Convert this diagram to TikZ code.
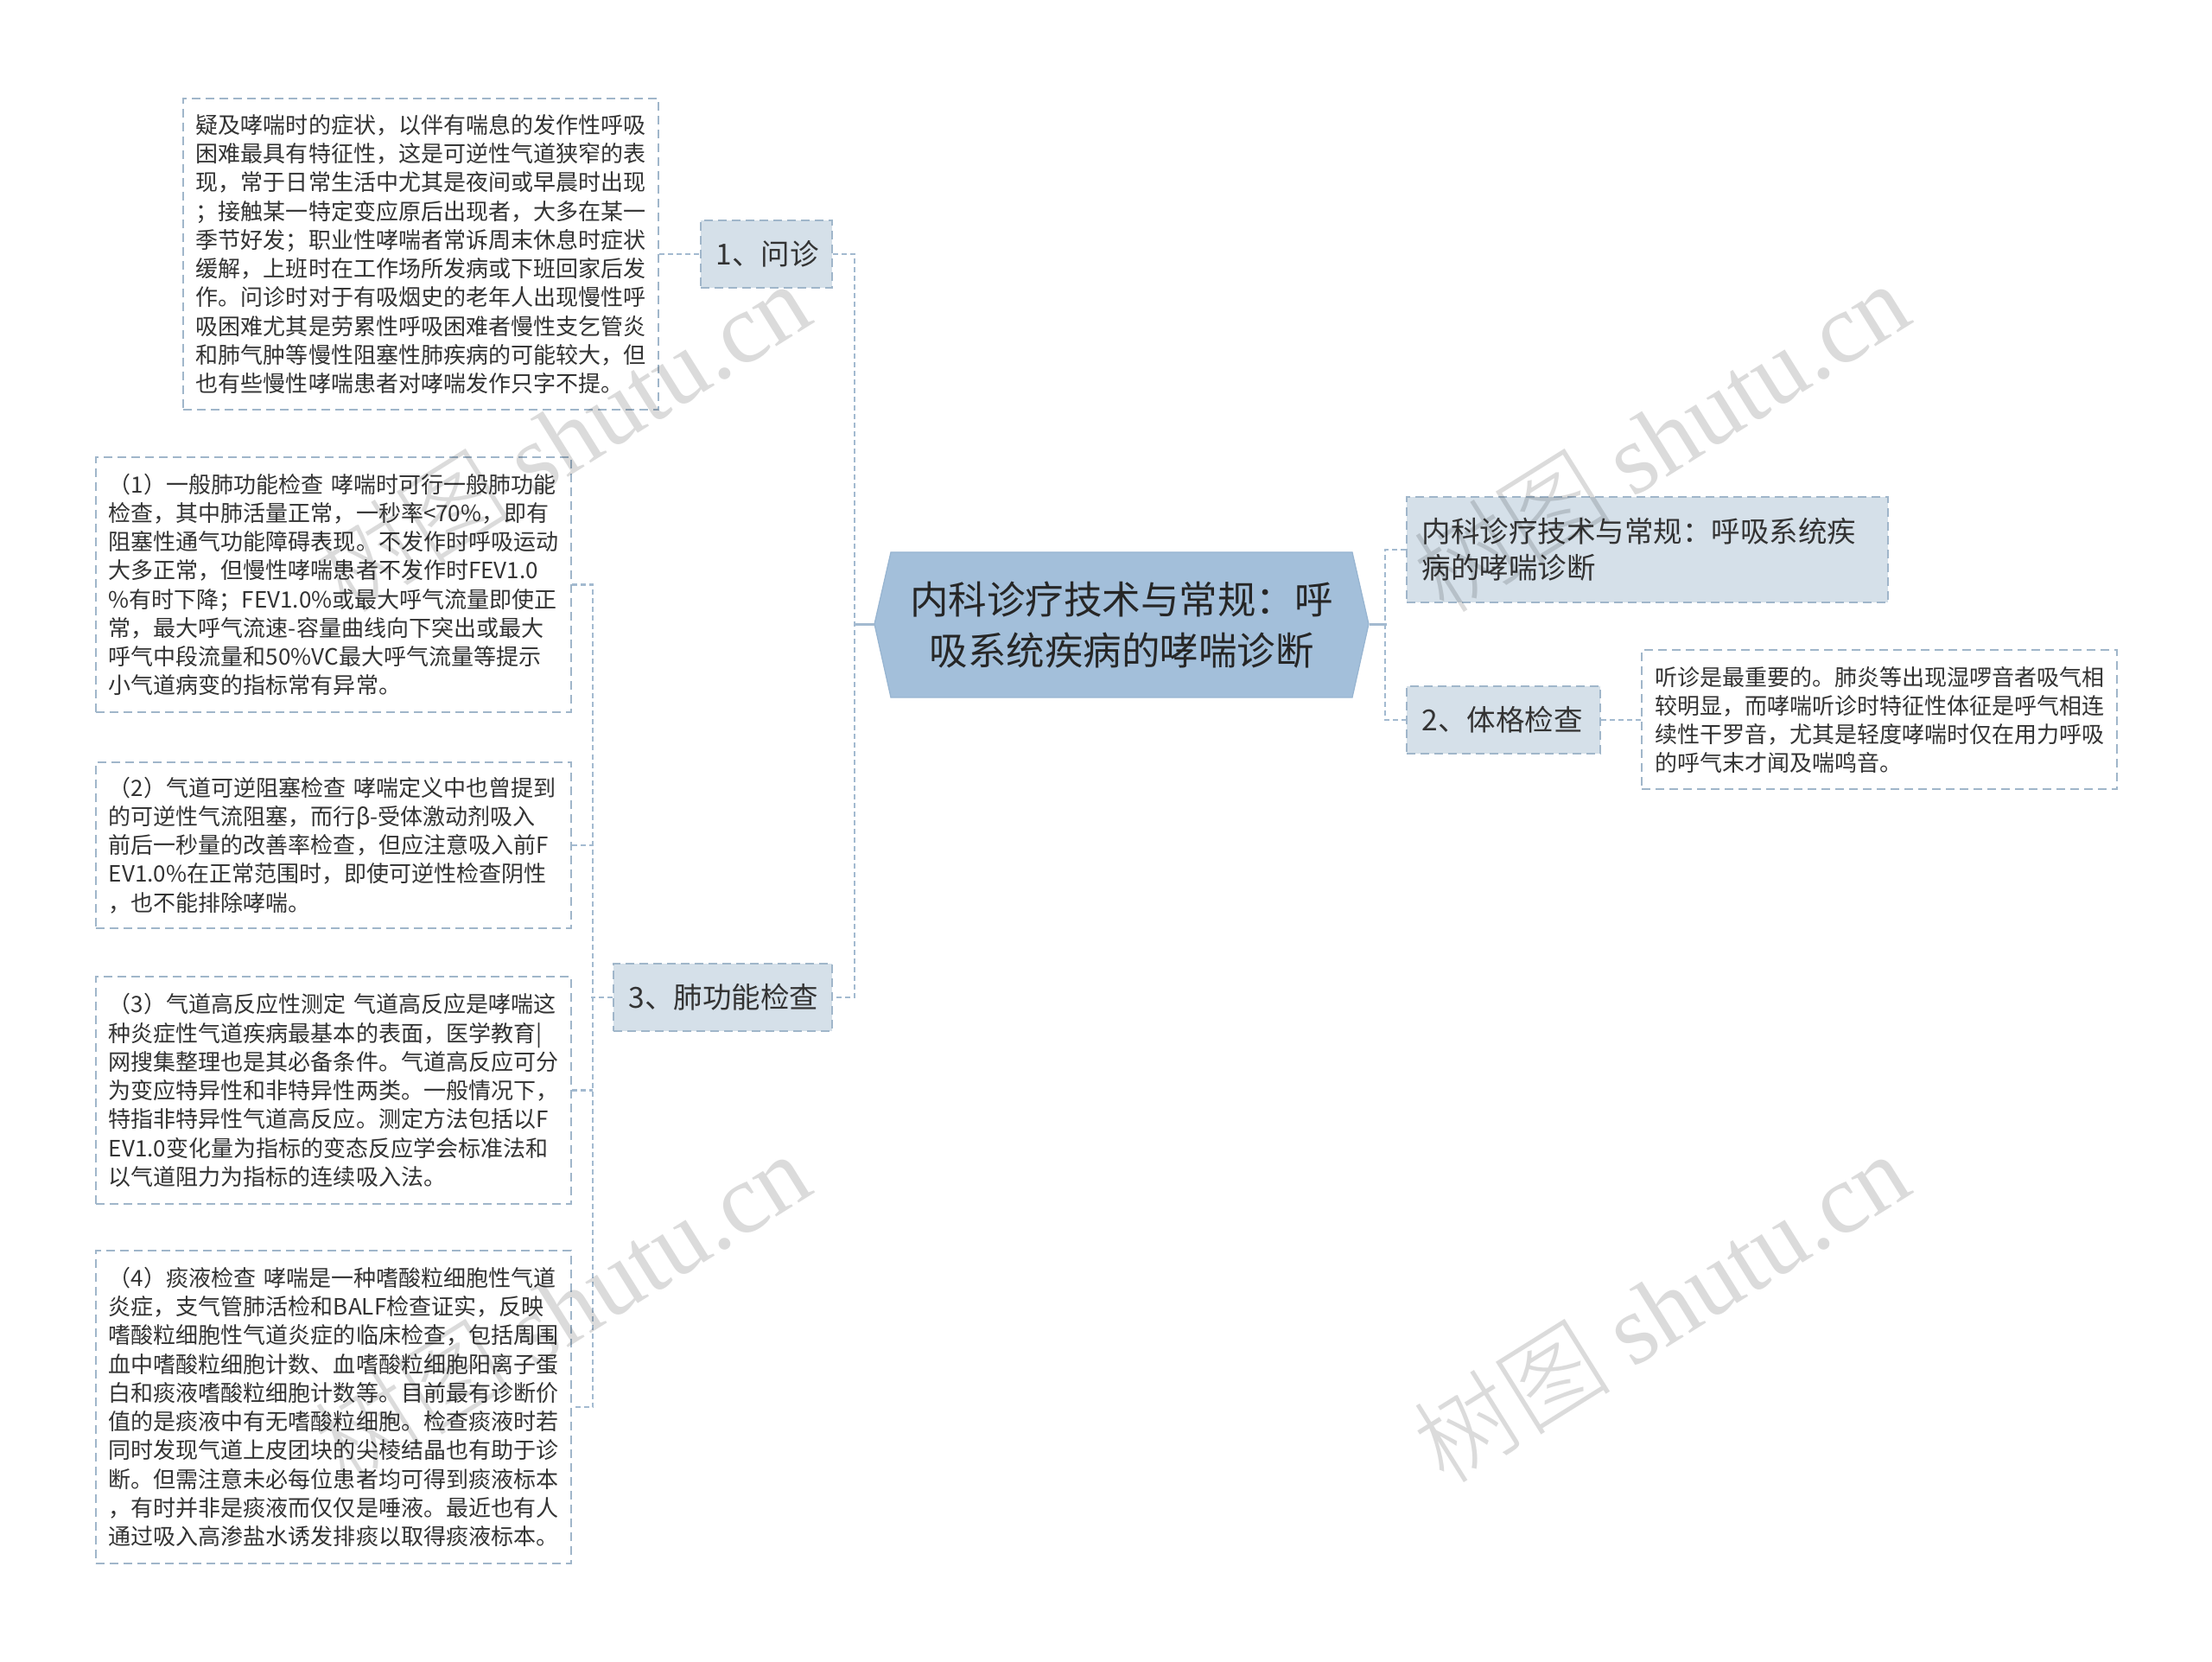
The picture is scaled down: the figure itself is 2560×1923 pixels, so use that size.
\documentclass[tikz,border=0pt]{standalone}
\usepackage{fontspec}
\setmainfont{Noto Sans CJK SC}
\newfontfamily\wmlatin{Liberation Serif}
\newfontfamily\wmcjk{Noto Sans CJK SC Light}
\definecolor{rootfill}{HTML}{A3BFDA}
\definecolor{rootline}{HTML}{98B5D1}
\definecolor{boxfill}{HTML}{D5E0E9}
\definecolor{boxline}{HTML}{A0B6CA}
\definecolor{connc}{HTML}{A3BAD0}
\definecolor{txt}{HTML}{333333}
\begin{document}
\begin{tikzpicture}[x=0.4pt,y=-0.4pt,
  leaf/.style={draw=boxline, line width=0.8pt, dash pattern=on 4pt off 2.4pt, fill=white, text=txt, align=left, text width=208pt, inner xsep=6pt, inner ysep=0pt, font=\fontsize{10.4pt}{13.3pt}\selectfont},
  branch/.style={draw=boxline, line width=0.8pt, dash pattern=on 4pt off 2.4pt, fill=boxfill, text=txt, align=left, inner xsep=7pt, inner ysep=0pt, minimum height=31.2pt, font=\fontsize{13.4pt}{16.8pt}\selectfont},
  conn/.style={draw=connc, line width=0.9pt, dash pattern=on 2.4pt off 1.6pt},
  solidconn/.style={draw=connc, line width=1.2pt},
  wm/.style={text=black, text opacity=0.14, rotate=32, font=\fontsize{46pt}{46pt}\selectfont, inner sep=0pt}
]
\useasboundingbox (0,0) rectangle (2560,1923);
\fill[white] (0,0) rectangle (2560,1923);

% root
\filldraw[fill=rootfill, draw=rootline, line width=0.5pt] (1012,722) -- (1031,639) -- (1565,639) -- (1584,722) -- (1565,807) -- (1031,807) -- cycle;
\node[minimum width=228.8pt, minimum height=67.2pt, inner sep=0pt, align=center, text=black!85, font=\fontsize{17.8pt}{23.6pt}\selectfont] (root) at (1298,723) {内科诊疗技术与常规：呼\\吸系统疾病的哮喘诊断};

% branches
\node[branch, text width=46.8pt] (b1) at (887,294) {1、问诊};
\node[branch, text width=87.2pt] (b3) at (836.5,1154) {3、肺功能检查};
\node[branch, text width=208.8pt, minimum height=48.8pt] (r1) at (1906.5,636) {内科诊疗技术与常规：呼吸系统疾\\病的哮喘诊断};
\node[branch, text width=75.6pt] (b2) at (1740,833) {2、体格检查};

% leaves
\node[leaf, minimum height=144pt] (l0) at (487,294) {疑及哮喘时的症状，以伴有喘息的发作性呼吸\\困难最具有特征性，这是可逆性气道狭窄的表\\现，常于日常生活中尤其是夜间或早晨时出现\\；接触某一特定变应原后出现者，大多在某一\\季节好发；职业性哮喘者常诉周末休息时症状\\缓解，上班时在工作场所发病或下班回家后发\\作。问诊时对于有吸烟史的老年人出现慢性呼\\吸困难尤其是劳累性呼吸困难者慢性支乞管炎\\和肺气肿等慢性阻塞性肺疾病的可能较大，但\\也有些慢性哮喘患者对哮喘发作只字不提。};

\node[leaf, minimum height=118pt] (l1) at (386,676.5) {（1）一般肺功能检查~哮喘时可行一般肺功能\\检查，其中肺活量正常，一秒率<70\%，即有\\阻塞性通气功能障碍表现。不发作时呼吸运动\\大多正常，但慢性哮喘患者不发作时FEV1.0\\\%有时下降；FEV1.0\%或最大呼气流量即使正\\常，最大呼气流速-容量曲线向下突出或最大\\呼气中段流量和50\%VC最大呼气流量等提示\\小气道病变的指标常有异常。};

\node[leaf, minimum height=76.8pt] (l2) at (386,978) {（2）气道可逆阻塞检查~哮喘定义中也曾提到\\的可逆性气流阻塞，而行β-受体激动剂吸入\\前后一秒量的改善率检查，但应注意吸入前F\\EV1.0\%在正常范围时，即使可逆性检查阴性\\，也不能排除哮喘。};

\node[leaf, minimum height=105.2pt] (l3) at (386,1261.5) {（3）气道高反应性测定~气道高反应是哮喘这\\种炎症性气道疾病最基本的表面，医学教育|\\网搜集整理也是其必备条件。气道高反应可分\\为变应特异性和非特异性两类。一般情况下，\\特指非特异性气道高反应。测定方法包括以F\\EV1.0变化量为指标的变态反应学会标准法和\\以气道阻力为指标的连续吸入法。};

\node[leaf, minimum height=144.8pt] (l4) at (386,1628) {（4）痰液检查~哮喘是一种嗜酸粒细胞性气道\\炎症，支气管肺活检和BALF检查证实，反映\\嗜酸粒细胞性气道炎症的临床检查，包括周围\\血中嗜酸粒细胞计数、血嗜酸粒细胞阳离子蛋\\白和痰液嗜酸粒细胞计数等。目前最有诊断价\\值的是痰液中有无嗜酸粒细胞。检查痰液时若\\同时发现气道上皮团块的尖棱结晶也有助于诊\\断。但需注意未必每位患者均可得到痰液标本\\，有时并非是痰液而仅仅是唾液。最近也有人\\通过吸入高渗盐水诱发排痰以取得痰液标本。};

\node[leaf, minimum height=64.4pt] (lr) at (2175,833) {听诊是最重要的。肺炎等出现湿啰音者吸气相\\较明显，而哮喘听诊时特征性体征是呼气相连\\续性干罗音，尤其是轻度哮喘时仅在用力呼吸\\的呼气末才闻及喘鸣音。};

% connectors
\draw[solidconn] (root.west) -- ++(-24,0);
\draw[conn] (b1.east) -- ++(25,0) |- (b3.east);
\draw[conn] (l0.east) -- (b1.west);
\draw[conn] (b3.west) -- ++(-25,0);
\draw[conn] (l1.east) -- ++(24,0) |- (l4.east);
\draw[conn] (l2.east) -- ++(24,0);
\draw[conn] (l3.east) -- ++(24,0);
\draw[solidconn] (root.east) -- ++(20,0);
\draw[conn] (r1.west) -- ++(-24,0) |- (b2.west);
\draw[conn] (b2.east) -- (lr.west);

% watermarks
\node[wm] (wm1) at (650,505) {{\wmcjk 树图} {\wmlatin shutu.cn}};
\node[wm] (wm2) at (1922,505) {{\wmcjk 树图} {\wmlatin shutu.cn}};
\node[wm] (wm3) at (650,1512) {{\wmcjk 树图} {\wmlatin shutu.cn}};
\node[wm] (wm4) at (1922,1512) {{\wmcjk 树图} {\wmlatin shutu.cn}};
\end{tikzpicture}
\end{document}
